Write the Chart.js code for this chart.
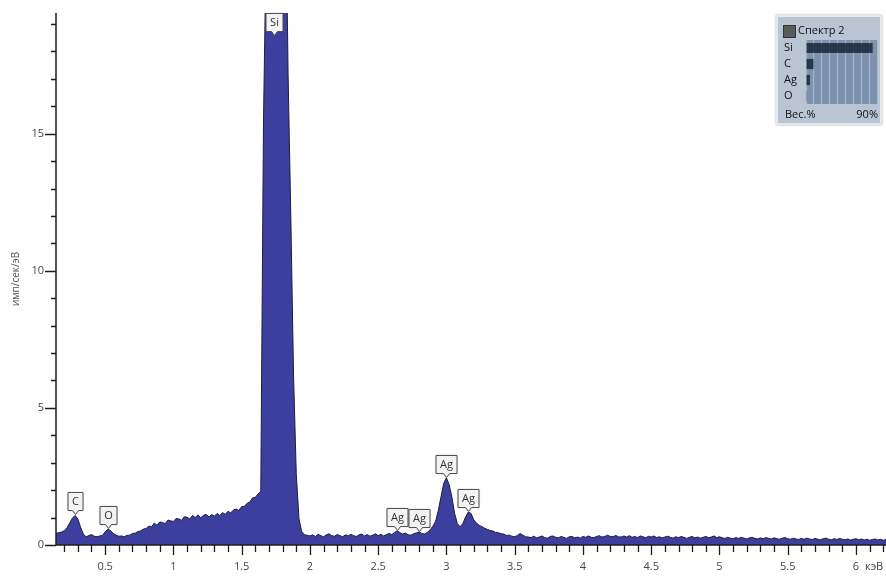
<!DOCTYPE html>
<html>
<head>
<meta charset="utf-8">
<title>Спектр 2</title>
<script src="https://cdn.jsdelivr.net/npm/chart.js@4.4.1/dist/chart.umd.min.js"></script>
<style>
  html, body { margin: 0; padding: 0; background: #fff; }
  #wrap { position: relative; width: 886px; height: 576px; overflow: hidden; }
  #spectrum { position: absolute; left: 0; top: 0; }
  #panel {
    position: absolute; left: 776px; top: 15px; width: 106px; height: 110px;
    box-sizing: border-box; background: #bac5d3; border: 2px solid #e3e8ee;
    box-shadow: 0 0 2px rgba(0,0,0,0.35);
    font-family: 'Open Sans', sans-serif; font-size: 11px; color: #111;
  }
  #panel .swatch { position: absolute; left: 5px; top: 8px; width: 11px; height: 11px; background: #5b5b5b; border: 1px solid #333; }
  #panel .name { position: absolute; left: 20px; top: 5px; line-height: 16px; }
  #panel .unit { position: absolute; left: 7px; top: 89px; line-height: 16px; }
  #panel .scaleMax { position: absolute; right: 2px; top: 89px; line-height: 16px; }
  #weights { position: absolute; left: 784px; top: 40px; }
</style>
</head>
<body>
<div id="wrap">
  <canvas id="spectrum" width="886" height="576"></canvas>
  <div id="panel">
    <div class="swatch"></div>
    <div class="name">Спектр 2</div>
    <div class="unit">Вес.%</div>
    <div class="scaleMax">90%</div>
  </div>
  <canvas id="weights" width="94" height="64"></canvas>
</div>
<script>
// EDS spectrum: counts per channel, channels every 0.02 keV starting at 0.14 keV
const startKeV = 0.14;
const stepKeV = 0.02;
const counts = [
  0.42, 0.45, 0.47, 0.52, 0.62, 0.80, 0.98, 1.08, 0.95, 0.65,   // 0.14
  0.40, 0.30, 0.34, 0.38, 0.32, 0.30, 0.33, 0.35, 0.48, 0.58,   // 0.34
  0.52, 0.42, 0.36, 0.32, 0.33, 0.30, 0.35, 0.36, 0.42, 0.43,   // 0.54
  0.49, 0.51, 0.58, 0.60, 0.69, 0.67, 0.80, 0.72, 0.84, 0.82,   // 0.74
  0.78, 0.91, 0.88, 0.86, 0.97, 0.95, 0.90, 1.03, 1.01, 0.95,   // 0.94
  1.08, 1.00, 1.10, 0.99, 1.08, 1.12, 1.02, 1.11, 1.05, 1.15,   // 1.14
  1.08, 1.18, 1.12, 1.23, 1.17, 1.28, 1.31, 1.26, 1.40, 1.41,   // 1.34
  1.52, 1.57, 1.72, 1.74, 1.86, 1.96, 15.5, 22.0, 30.0, 37.0,   // 1.54
  40.0, 38.0, 35.0, 31.0, 25.0, 17.2, 12.0, 6.2, 2.6, 0.95,     // 1.74
  0.48, 0.38, 0.35, 0.33, 0.37, 0.31, 0.39, 0.34, 0.30, 0.37,   // 1.94
  0.41, 0.34, 0.32, 0.38, 0.34, 0.30, 0.37, 0.33, 0.39, 0.34,   // 2.14
  0.31, 0.37, 0.40, 0.33, 0.38, 0.32, 0.36, 0.41, 0.34, 0.39,   // 2.34
  0.33, 0.38, 0.42, 0.38, 0.46, 0.52, 0.45, 0.40, 0.44, 0.37,   // 2.54
  0.36, 0.41, 0.44, 0.48, 0.42, 0.40, 0.46, 0.55, 0.68, 0.85,   // 2.74
  1.25, 1.75, 2.25, 2.45, 2.20, 1.75, 1.15, 0.78, 0.66, 0.78,   // 2.94
  1.02, 1.20, 1.15, 0.92, 0.80, 0.72, 0.67, 0.61, 0.57, 0.53,   // 3.14
  0.51, 0.46, 0.45, 0.41, 0.40, 0.35, 0.36, 0.32, 0.30, 0.35,   // 3.34
  0.42, 0.36, 0.30, 0.29, 0.27, 0.32, 0.26, 0.29, 0.33, 0.27,   // 3.54
  0.25, 0.31, 0.33, 0.28, 0.26, 0.31, 0.28, 0.24, 0.30, 0.31,   // 3.74
  0.26, 0.29, 0.25, 0.31, 0.28, 0.33, 0.28, 0.27, 0.31, 0.34,   // 3.94
  0.29, 0.31, 0.36, 0.31, 0.30, 0.35, 0.30, 0.29, 0.33, 0.29,   // 4.14
  0.34, 0.28, 0.31, 0.27, 0.33, 0.30, 0.26, 0.32, 0.29, 0.33,   // 4.34
  0.27, 0.30, 0.26, 0.29, 0.32, 0.28, 0.25, 0.30, 0.27, 0.31,   // 4.54
  0.28, 0.24, 0.28, 0.31, 0.26, 0.29, 0.25, 0.28, 0.31, 0.27,   // 4.74
  0.29, 0.33, 0.27, 0.30, 0.26, 0.24, 0.28, 0.25, 0.23, 0.27,   // 4.94
  0.24, 0.28, 0.25, 0.22, 0.26, 0.28, 0.24, 0.22, 0.26, 0.23,   // 5.14
  0.27, 0.24, 0.22, 0.26, 0.23, 0.21, 0.25, 0.27, 0.23, 0.21,   // 5.34
  0.25, 0.22, 0.20, 0.24, 0.21, 0.25, 0.22, 0.20, 0.24, 0.21,   // 5.54
  0.19, 0.23, 0.25, 0.21, 0.19, 0.23, 0.20, 0.24, 0.21, 0.19,   // 5.74
  0.22, 0.18, 0.21, 0.23, 0.19, 0.22, 0.18, 0.21, 0.17, 0.20,   // 5.94
  0.22, 0.18, 0.21, 0.17, 0.20                                  // 6.14
];

// axis ranges
const energyMin = 0.14, energyMax = 6.22;
const rateMax = 19.4;

// identified lines
const peakNames = ['C', 'O', 'Si', 'Ag', 'Ag', 'Ag', 'Ag'];
const peakKeV   = [0.28, 0.52, 1.74, 2.64, 2.80, 3.00, 3.16];

// composition panel
const elements  = ['Si', 'C', 'Ag', 'O'];
const weightPct = [84.5, 9.5, 5.0, 0.3];

const FONT = "'Open Sans', sans-serif";
const points = counts.map((c, i) => ({ x: +(startKeV + i * stepKeV).toFixed(2), y: c }));

function isStep(v, s) { return Math.abs(v / s - Math.round(v / s)) < 1e-6; }
function fmtKeV(v) { return String(Math.round(v * 10) / 10); }

const spectrumDecor = {
  id: 'spectrumDecor',
  afterDatasetsDraw(chart) {
    const { ctx, chartArea: a, scales: { x, y } } = chart;
    ctx.save();
    // axis lines
    ctx.strokeStyle = '#1e1e1e';
    ctx.lineWidth = 1.5;
    ctx.beginPath();
    ctx.moveTo(a.left, a.top); ctx.lineTo(a.left, a.bottom); ctx.lineTo(a.right, a.bottom);
    ctx.stroke();
    // tick marks
    ctx.lineWidth = 1.3;
    ctx.beginPath();
    x.ticks.forEach(t => {
      const px = Math.round(x.getPixelForValue(t.value)) + 0.5;
      const len = isStep(t.value, 0.5) ? 10 : 7;
      ctx.moveTo(px, a.bottom); ctx.lineTo(px, a.bottom + len);
    });
    y.ticks.forEach(t => {
      const py = Math.round(y.getPixelForValue(t.value)) + 0.5;
      const len = isStep(t.value, 5) ? 11 : 5;
      ctx.moveTo(a.left - len, py); ctx.lineTo(a.left, py);
    });
    ctx.stroke();

    // unit next to the last energy label
    ctx.fillStyle = '#444';
    ctx.font = '11px ' + FONT;
    ctx.textAlign = 'left';
    ctx.textBaseline = 'middle';
    ctx.fillText('кэВ', x.getPixelForValue(6) + 9, a.bottom + 22);

    // y axis title
    ctx.save();
    ctx.translate(16, (a.top + a.bottom) / 2);
    ctx.rotate(-Math.PI / 2);
    ctx.textAlign = 'center';
    ctx.font = '10px ' + FONT;
    ctx.fillStyle = '#555';
    ctx.fillText('имп/сек/эВ', 0, 0);
    ctx.restore();

    // peak labels
    ctx.font = '11px ' + FONT;
    peakNames.forEach((name, i) => {
      const e = peakKeV[i];
      const idx = Math.round((e - startKeV) / stepKeV);
      const v = counts[idx];
      const cx = Math.round(x.getPixelForValue(e)) + 0.5;
      const h = 18;
      const w = Math.round(ctx.measureText(name).width + 8);
      let y1;
      if (v >= rateMax) {
        y1 = a.top + h + 0.5;
      } else {
        y1 = Math.round(y.getPixelForValue(v)) - 5 + 0.5;
      }
      const y0 = y1 - h;
      const x0 = cx - w / 2, x1 = cx + w / 2;
      ctx.beginPath();
      ctx.moveTo(x0, y0); ctx.lineTo(x1, y0); ctx.lineTo(x1, y1);
      ctx.lineTo(cx + 3, y1); ctx.lineTo(cx, y1 + 4); ctx.lineTo(cx - 3, y1);
      ctx.lineTo(x0, y1); ctx.closePath();
      ctx.save();
      ctx.shadowColor = 'rgba(0,0,0,0.35)';
      ctx.shadowBlur = 2;
      ctx.fillStyle = '#f3f3f3';
      ctx.fill();
      ctx.restore();
      ctx.strokeStyle = '#505050';
      ctx.lineWidth = 1;
      ctx.stroke();
      ctx.fillStyle = '#333';
      ctx.textAlign = 'center';
      ctx.textBaseline = 'middle';
      ctx.fillText(name, cx, (y0 + y1) / 2 + 0.5);
    });
    ctx.restore();
  }
};

new Chart(document.getElementById('spectrum'), {
  type: 'line',
  data: {
    datasets: [{
      data: points,
      parsing: false,
      borderColor: '#1d1d3c',
      borderWidth: 1,
      backgroundColor: '#3d3f9f',
      fill: 'origin',
      pointRadius: 0,
      tension: 0
    }]
  },
  options: {
    responsive: false,
    animation: false,
    events: [],
    layout: { padding: { top: 13, left: 0, right: 0, bottom: 0 } },
    plugins: { legend: { display: false }, tooltip: { enabled: false } },
    scales: {
      x: {
        type: 'linear', min: energyMin, max: energyMax,
        border: { display: false },
        grid: { display: false, drawTicks: false },
        ticks: {
          stepSize: 0.1, includeBounds: false, autoSkip: false, maxRotation: 0,
          padding: 15, color: '#444', font: { family: FONT, size: 11 },
          callback: v => isStep(v, 0.5) ? fmtKeV(v) : ''
        },
        afterFit: s => { s.height = 31; s.paddingLeft = 0; s.paddingRight = 0; }
      },
      y: {
        min: 0, max: rateMax,
        border: { display: false },
        grid: { display: false, drawTicks: false },
        ticks: {
          stepSize: 1, includeBounds: false, autoSkip: false,
          padding: 12, color: '#444', font: { family: FONT, size: 11 },
          callback: v => isStep(v, 5) ? String(v) : ''
        },
        afterFit: s => { s.width = 56; s.paddingTop = 0; s.paddingBottom = 0; }
      }
    }
  },
  plugins: [spectrumDecor]
});

// weight-percent bars inside the panel
const panelArea = {
  id: 'panelArea',
  beforeDraw(chart) {
    const { ctx, chartArea: a } = chart;
    ctx.save();
    ctx.fillStyle = '#7d92ae';
    ctx.fillRect(a.left, a.top, a.right - a.left, a.bottom - a.top);
    ctx.restore();
  }
};

new Chart(document.getElementById('weights'), {
  type: 'bar',
  data: {
    labels: elements,
    datasets: [{
      data: weightPct,
      backgroundColor: 'rgba(30,42,62,0.88)',
      borderWidth: 0,
      barPercentage: 0.82,
      categoryPercentage: 0.78
    }]
  },
  options: {
    indexAxis: 'y',
    responsive: false,
    animation: false,
    events: [],
    layout: { padding: { right: 1, top: 0, bottom: 0, left: 0 } },
    plugins: { legend: { display: false }, tooltip: { enabled: false } },
    scales: {
      x: {
        min: 0, max: 90,
        ticks: { display: false, stepSize: 10 },
        grid: { color: '#a9b9ce', drawTicks: false },
        border: { display: false },
        afterFit: s => { s.height = 0; s.paddingLeft = 0; s.paddingRight = 0; }
      },
      y: {
        ticks: { crossAlign: 'far', padding: 0, autoSkip: false, color: '#111', font: { family: FONT, size: 11 } },
        grid: { display: false, drawTicks: false },
        border: { display: false },
        afterFit: s => { s.width = 22; s.paddingTop = 0; s.paddingBottom = 0; }
      }
    }
  },
  plugins: [panelArea]
});
</script>
</body>
</html>
